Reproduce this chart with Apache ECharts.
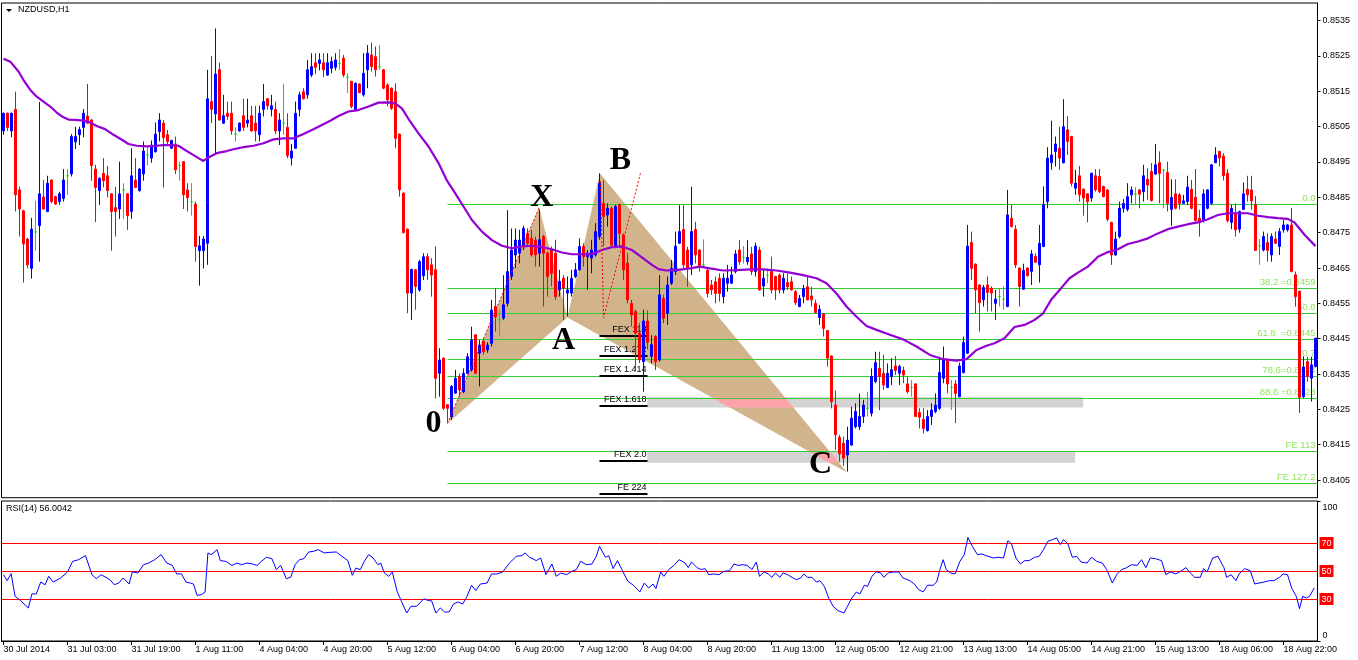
<!DOCTYPE html>
<html><head><meta charset="utf-8">
<script src="https://cdn.jsdelivr.net/npm/echarts@6/dist/echarts.min.js"></script>
<style>html,body{margin:0;padding:0;background:#fff}#c{width:1358px;height:660px}</style>
</head><body><div id="c"></div>
<script>
const symbolTitle = 'NZDUSD,H1';
const rsiTitle = 'RSI(14) 56.0042';

// [open, close, low, high] per H1 bar
const candles = [
[0.85038,0.85088,0.85027,0.85090],[0.85088,0.85048,0.85038,0.85090],[0.85038,0.85088,0.85020,0.85090],[0.85099,0.84857,0.84810,0.85149],[0.84871,0.84817,0.84739,0.84880],
[0.84812,0.84718,0.84609,0.84815],[0.84732,0.84659,0.84649,0.84735],[0.84649,0.84760,0.84620,0.84792],[0.84752,0.84752,0.84699,0.84840],[0.84770,0.84860,0.84668,0.85120],
[0.84851,0.84817,0.84815,0.84899],[0.84810,0.84890,0.84808,0.84911],[0.84899,0.84838,0.84833,0.84901],[0.84852,0.84831,0.84829,0.84855],[0.84838,0.84860,0.84829,0.84866],
[0.84847,0.84899,0.84838,0.84930],[0.84911,0.84911,0.84857,0.84930],[0.84916,0.85022,0.84909,0.85029],[0.85007,0.85022,0.84987,0.85050],[0.85027,0.85042,0.84998,0.85050],
[0.85048,0.85088,0.85020,0.85100],[0.85080,0.85060,0.85058,0.85171],[0.85069,0.84940,0.84897,0.85072],[0.84930,0.84878,0.84780,0.84942],[0.84869,0.84904,0.84829,0.84906],
[0.84918,0.84897,0.84878,0.84961],[0.84911,0.84869,0.84850,0.84939],[0.84860,0.84810,0.84699,0.84862],[0.84821,0.84810,0.84739,0.84880],[0.84817,0.84860,0.84789,0.84951],
[0.84871,0.84871,0.84789,0.84890],[0.84860,0.84798,0.84758,0.84862],[0.84810,0.84911,0.84789,0.84989],[0.84899,0.84878,0.84876,0.84961],[0.84869,0.84930,0.84866,0.84932],
[0.84916,0.84981,0.84897,0.85008],[0.84970,0.84970,0.84940,0.84992],[0.84961,0.84998,0.84948,0.85011],[0.84979,0.85029,0.84977,0.85062],[0.85036,0.85069,0.85008,0.85088],
[0.85060,0.85019,0.84878,0.85069],[0.85027,0.85008,0.84998,0.85041],[0.84989,0.85011,0.84987,0.85013],[0.85001,0.84928,0.84916,0.85022],[0.84940,0.84940,0.84897,0.84951],
[0.84951,0.84857,0.84817,0.84953],[0.84871,0.84849,0.84810,0.84890],[0.84838,0.84838,0.84798,0.84890],[0.84831,0.84711,0.84668,0.84838],[0.84699,0.84713,0.84600,0.84741],
[0.84699,0.84732,0.84649,0.84741],[0.84720,0.85129,0.84659,0.85211],[0.85121,0.85099,0.85060,0.85250],[0.85086,0.85199,0.84975,0.85328],[0.85211,0.85069,0.85067,0.85231],
[0.85060,0.85081,0.85058,0.85140],[0.85088,0.85079,0.85069,0.85121],[0.85088,0.85038,0.85027,0.85121],[0.85029,0.85029,0.85008,0.85048],[0.85038,0.85060,0.85036,0.85062],
[0.85081,0.85048,0.85038,0.85129],[0.85060,0.85069,0.85048,0.85129],[0.85081,0.85038,0.85036,0.85109],[0.85060,0.85038,0.85008,0.85109],[0.85027,0.85088,0.85008,0.85109],
[0.85099,0.85121,0.85079,0.85171],[0.85129,0.85109,0.85099,0.85131],[0.85099,0.85109,0.85079,0.85140],[0.85099,0.85038,0.85029,0.85121],[0.85038,0.85069,0.84998,0.85088],
[0.85060,0.85060,0.85027,0.85171],[0.85048,0.84968,0.84961,0.85088],[0.84961,0.84981,0.84940,0.85001],[0.84989,0.85088,0.84987,0.85121],[0.85099,0.85140,0.85079,0.85149],
[0.85149,0.85129,0.85127,0.85159],[0.85140,0.85211,0.85129,0.85239],[0.85196,0.85220,0.85190,0.85258],[0.85231,0.85218,0.85199,0.85258],[0.85229,0.85239,0.85209,0.85258],
[0.85231,0.85211,0.85190,0.85258],[0.85196,0.85231,0.85194,0.85258],[0.85215,0.85234,0.85201,0.85248],[0.85218,0.85239,0.85209,0.85258],[0.85229,0.85229,0.85211,0.85269],
[0.85244,0.85196,0.85190,0.85253],[0.85190,0.85190,0.85145,0.85201],[0.85178,0.85107,0.85102,0.85180],[0.85097,0.85173,0.85093,0.85175],[0.85171,0.85146,0.85145,0.85173],
[0.85140,0.85201,0.85135,0.85258],[0.85211,0.85258,0.85159,0.85281],[0.85253,0.85220,0.85206,0.85288],[0.85248,0.85211,0.85192,0.85277],[0.85220,0.85220,0.85211,0.85281],
[0.85211,0.85159,0.85156,0.85213],[0.85168,0.85126,0.85107,0.85173],[0.85159,0.85102,0.85097,0.85161],[0.85149,0.85017,0.84989,0.85173],[0.85029,0.84871,0.84852,0.85031],
[0.84862,0.84750,0.84748,0.84864],[0.84760,0.84579,0.84522,0.84762],[0.84579,0.84646,0.84503,0.84648],[0.84645,0.84598,0.84532,0.84647],[0.84588,0.84668,0.84583,0.84673],
[0.84628,0.84682,0.84616,0.84692],[0.84682,0.84645,0.84616,0.84692],[0.84659,0.84630,0.84569,0.84678],[0.84645,0.84338,0.84281,0.84711],[0.84352,0.84390,0.84286,0.84423],
[0.84395,0.84253,0.84248,0.84397],[0.84263,0.84253,0.84212,0.84265],[0.84229,0.84315,0.84220,0.84319],[0.84296,0.84338,0.84294,0.84362],[0.84343,0.84305,0.84286,0.84352],
[0.84300,0.84352,0.84296,0.84366],[0.84352,0.84399,0.84350,0.84409],[0.84362,0.84446,0.84357,0.84484],[0.84461,0.84352,0.84350,0.84463],[0.84409,0.84432,0.84315,0.84446],
[0.84442,0.84413,0.84405,0.84450],[0.84418,0.84432,0.84410,0.84440],[0.84437,0.84531,0.84428,0.84560],[0.84541,0.84512,0.84470,0.84593],[0.84503,0.84503,0.84456,0.84531],
[0.84508,0.84546,0.84503,0.84630],[0.84550,0.84640,0.84541,0.84814],[0.84626,0.84701,0.84616,0.84762],[0.84687,0.84729,0.84650,0.84762],[0.84692,0.84729,0.84663,0.84758],
[0.84711,0.84762,0.84701,0.84770],[0.84748,0.84720,0.84711,0.84762],[0.84734,0.84687,0.84682,0.84758],[0.84729,0.84687,0.84654,0.84739],[0.84692,0.84730,0.84654,0.84815],
[0.84739,0.84692,0.84541,0.84744],[0.84692,0.84626,0.84569,0.84697],[0.84701,0.84635,0.84598,0.84711],[0.84692,0.84569,0.84560,0.84730],[0.84588,0.84612,0.84569,0.84645],
[0.84621,0.84593,0.84503,0.84630],[0.84579,0.84588,0.84513,0.84626],[0.84579,0.84621,0.84569,0.84645],[0.84626,0.84645,0.84621,0.84664],[0.84645,0.84711,0.84643,0.84734],
[0.84711,0.84682,0.84654,0.84720],[0.84682,0.84692,0.84588,0.84701],[0.84678,0.84701,0.84635,0.84730],[0.84687,0.84753,0.84682,0.84777],[0.84739,0.84890,0.84730,0.84918],
[0.84833,0.84796,0.84711,0.84899],[0.84800,0.84819,0.84767,0.84833],[0.84819,0.84715,0.84711,0.84824],[0.84711,0.84824,0.84706,0.84829],[0.84829,0.84748,0.84711,0.84833],
[0.84744,0.84645,0.84616,0.84748],[0.84664,0.84560,0.84550,0.84692],[0.84550,0.84517,0.84484,0.84560],[0.84527,0.84466,0.84362,0.84532],[0.84466,0.84390,0.84381,0.84494],
[0.84385,0.84500,0.84300,0.84532],[0.84500,0.84440,0.84420,0.84530],[0.84400,0.84433,0.84380,0.84460],[0.84456,0.84385,0.84361,0.84460],[0.84390,0.84574,0.84385,0.84630],
[0.84564,0.84508,0.84494,0.84574],[0.84522,0.84602,0.84489,0.84626],[0.84607,0.84649,0.84602,0.84673],[0.84640,0.84712,0.84630,0.84753],[0.84720,0.84753,0.84718,0.84828],
[0.84759,0.84659,0.84649,0.84828],[0.84701,0.84649,0.84597,0.84710],[0.84659,0.84753,0.84630,0.84880],[0.84759,0.84687,0.84663,0.84781],[0.84701,0.84654,0.84640,0.84703],
[0.84659,0.84659,0.84654,0.84731],[0.84644,0.84578,0.84567,0.84649],[0.84602,0.84588,0.84574,0.84616],[0.84611,0.84578,0.84550,0.84626],[0.84621,0.84578,0.84555,0.84635],
[0.84569,0.84621,0.84550,0.84635],[0.84607,0.84621,0.84583,0.84659],[0.84607,0.84630,0.84605,0.84654],[0.84640,0.84690,0.84635,0.84701],[0.84701,0.84668,0.84659,0.84729],
[0.84680,0.84680,0.84663,0.84712],[0.84668,0.84680,0.84659,0.84729],[0.84690,0.84640,0.84630,0.84710],[0.84640,0.84712,0.84626,0.84722],[0.84701,0.84588,0.84586,0.84710],
[0.84599,0.84621,0.84569,0.84646],[0.84630,0.84630,0.84607,0.84649],[0.84640,0.84588,0.84578,0.84682],[0.84626,0.84588,0.84560,0.84628],[0.84630,0.84588,0.84578,0.84635],
[0.84588,0.84621,0.84578,0.84635],[0.84609,0.84597,0.84588,0.84635],[0.84611,0.84588,0.84586,0.84626],[0.84583,0.84552,0.84545,0.84588],[0.84541,0.84564,0.84539,0.84574],
[0.84569,0.84592,0.84550,0.84602],[0.84597,0.84560,0.84558,0.84626],[0.84571,0.84560,0.84541,0.84597],[0.84550,0.84524,0.84522,0.84560],[0.84510,0.84533,0.84489,0.84545],
[0.84520,0.84479,0.84456,0.84522],[0.84473,0.84395,0.84371,0.84475],[0.84401,0.84272,0.84253,0.84403],[0.84262,0.84178,0.84135,0.84303],[0.84171,0.84124,0.84102,0.84178],
[0.84154,0.84112,0.84090,0.84173],[0.84121,0.84163,0.84074,0.84201],[0.84149,0.84225,0.84147,0.84258],[0.84201,0.84244,0.84196,0.84267],[0.84201,0.84230,0.84192,0.84295],
[0.84230,0.84262,0.84211,0.84277],[0.84253,0.84253,0.84230,0.84300],[0.84239,0.84343,0.84230,0.84366],[0.84329,0.84382,0.84324,0.84413],[0.84366,0.84343,0.84248,0.84413],
[0.84352,0.84319,0.84305,0.84404],[0.84312,0.84352,0.84310,0.84380],[0.84343,0.84362,0.84319,0.84395],[0.84373,0.84360,0.84347,0.84401],[0.84352,0.84371,0.84319,0.84376],
[0.84360,0.84347,0.84324,0.84371],[0.84322,0.84300,0.84295,0.84343],[0.84312,0.84312,0.84286,0.84333],[0.84322,0.84230,0.84228,0.84324],[0.84241,0.84228,0.84196,0.84253],
[0.84222,0.84196,0.84182,0.84253],[0.84190,0.84230,0.84187,0.84248],[0.84230,0.84248,0.84206,0.84267],[0.84244,0.84262,0.84239,0.84295],[0.84253,0.84354,0.84248,0.84399],
[0.84338,0.84390,0.84324,0.84428],[0.84390,0.84322,0.84295,0.84392],[0.84312,0.84312,0.84248,0.84333],[0.84322,0.84295,0.84211,0.84333],[0.84286,0.84373,0.84284,0.84382],
[0.84354,0.84439,0.84352,0.84456],[0.84409,0.84712,0.84407,0.84772],[0.84722,0.84649,0.84616,0.84753],[0.84661,0.84588,0.84522,0.84663],[0.84602,0.84552,0.84470,0.84604],
[0.84560,0.84595,0.84541,0.84602],[0.84602,0.84581,0.84527,0.84626],[0.84593,0.84579,0.84527,0.84598],[0.84550,0.84562,0.84503,0.84588],[0.84569,0.84569,0.84541,0.84593],
[0.84562,0.84562,0.84532,0.84598],[0.84541,0.84800,0.84539,0.84871],[0.84791,0.84767,0.84765,0.84829],[0.84760,0.84659,0.84650,0.84772],[0.84650,0.84598,0.84541,0.84652],
[0.84590,0.84643,0.84588,0.84662],[0.84650,0.84628,0.84626,0.84652],[0.84640,0.84690,0.84602,0.84701],[0.84683,0.84666,0.84664,0.84692],[0.84659,0.84720,0.84609,0.84772],
[0.84711,0.84829,0.84709,0.84881],[0.84838,0.84961,0.84819,0.84992],[0.84948,0.84970,0.84928,0.85067],[0.84980,0.85001,0.84937,0.85022],[0.84989,0.84961,0.84928,0.85050],
[0.84948,0.85050,0.84946,0.85128],[0.85041,0.85008,0.84970,0.85080],[0.85022,0.84890,0.84881,0.85024],[0.84876,0.84890,0.84857,0.84928],[0.84911,0.84857,0.84838,0.84939],
[0.84873,0.84848,0.84798,0.84876],[0.84860,0.84838,0.84779,0.84862],[0.84848,0.84918,0.84838,0.84920],[0.84911,0.84871,0.84866,0.84930],[0.84909,0.84866,0.84862,0.84930],
[0.84881,0.84852,0.84850,0.84883],[0.84871,0.84788,0.84782,0.84873],[0.84779,0.84687,0.84659,0.84781],[0.84687,0.84732,0.84685,0.84753],[0.84739,0.84819,0.84734,0.84838],
[0.84819,0.84833,0.84807,0.84845],[0.84816,0.84852,0.84810,0.84890],[0.84857,0.84871,0.84833,0.84881],[0.84859,0.84859,0.84829,0.84879],[0.84871,0.84859,0.84819,0.84873],
[0.84866,0.84911,0.84838,0.84942],[0.84901,0.84885,0.84843,0.84932],[0.84923,0.84841,0.84838,0.84947],[0.84916,0.84942,0.84914,0.85001],[0.84948,0.84918,0.84833,0.84980],
[0.84928,0.84928,0.84819,0.84930],[0.84920,0.84833,0.84810,0.84951],[0.84816,0.84850,0.84769,0.84901],[0.84860,0.84819,0.84816,0.84901],[0.84857,0.84833,0.84816,0.84862],
[0.84833,0.84840,0.84832,0.84857],[0.84838,0.84879,0.84829,0.84911],[0.84873,0.84819,0.84816,0.84899],[0.84850,0.84784,0.84782,0.84930],[0.84791,0.84779,0.84739,0.84815],
[0.84784,0.84860,0.84779,0.84873],[0.84819,0.84871,0.84816,0.84873],[0.84833,0.84942,0.84829,0.84944],[0.84948,0.84970,0.84947,0.84992],[0.84980,0.84961,0.84937,0.84982],
[0.84967,0.84911,0.84898,0.84975],[0.84918,0.84784,0.84779,0.84930],[0.84779,0.84819,0.84760,0.84829],[0.84805,0.84758,0.84739,0.84833],[0.84760,0.84810,0.84750,0.84812],
[0.84816,0.84860,0.84815,0.84892],[0.84873,0.84857,0.84838,0.84911],[0.84871,0.84840,0.84815,0.84911],[0.84829,0.84700,0.84698,0.84854],[0.84713,0.84713,0.84659,0.84732],
[0.84701,0.84739,0.84697,0.84753],[0.84722,0.84700,0.84668,0.84748],[0.84687,0.84739,0.84668,0.84748],[0.84732,0.84720,0.84718,0.84753],[0.84711,0.84753,0.84687,0.84763],
[0.84758,0.84772,0.84750,0.84786],[0.84758,0.84772,0.84753,0.84775],[0.84772,0.84640,0.84638,0.84820],[0.84631,0.84569,0.84541,0.84640],[0.84584,0.84284,0.84240,0.84586],
[0.84286,0.84370,0.84282,0.84400],[0.84385,0.84343,0.84329,0.84399],[0.84338,0.84376,0.84272,0.84399],[0.84371,0.84451,0.84369,0.84453]
];

// moving average: [bar, value]
const maPoints = [
[0,0.85242],[1.7,0.85234],[3.75,0.85206],[5,0.85182],[6.7,0.85154],[8.3,0.85135],[10,0.85121],[11.7,0.85107],[13.3,0.85090],[14.6,0.85079],[16.25,0.85070],[17.9,0.85069],[20,0.85067],[21.7,0.85062],[23.3,0.85052],[25.4,0.85043],[27.5,0.85027],[29.6,0.85013],[31.25,0.85001],[33.3,0.84996],[35.8,0.84994],[38.3,0.84996],[40,0.84998],[41.7,0.84998],[43.75,0.84996],[45.4,0.84984],[47,0.84973],[48.75,0.84961],[50,0.84953],[51.25,0.84963],[53.3,0.84975],[55.8,0.84981],[57.5,0.84986],[60,0.84992],[62.5,0.84996],[65,0.85003],[67.5,0.85014],[70,0.85017],[72.5,0.85017],[75,0.85029],[77.5,0.85043],[79.6,0.85055],[81.7,0.85067],
[83.75,0.85080],[86.25,0.85093],[88.75,0.85097],[91.25,0.85107],[93.75,0.85118],[96.25,0.85119],[97.9,0.85116],[99.6,0.85102],[101.7,0.85064],[103.75,0.85031],[106.25,0.84994],[108.75,0.84947],[110.8,0.84899],[112.9,0.84862],[115,0.84824],[117.1,0.84786],[119.6,0.84753],[122.1,0.84729],[124.6,0.84713],[127.1,0.84706],[129.6,0.84711],[132.1,0.84713],[134.6,0.84709],[137.1,0.84703],[139.6,0.84694],[142.1,0.84689],[144.6,0.84689],[147.1,0.84689],[149.6,0.84701],[152.1,0.84709],[154.6,0.84711],[157.1,0.84701],[159.6,0.84680],[162.1,0.84659],[163.75,0.84647],
[165.75,0.84643],[168.25,0.84644],[171.6,0.84649],[174.1,0.84654],[176.6,0.84649],[179.9,0.84643],[183.25,0.84644],[186.6,0.84646],[189.9,0.84646],[193.25,0.84643],[196.6,0.84637],[199.9,0.84630],[203.25,0.84621],[205.75,0.84607],[208.25,0.84578],[210.75,0.84541],[213.25,0.84512],[215.75,0.84486],[218.25,0.84475],[221.6,0.84461],[224.9,0.84448],[228.25,0.84428],[231.6,0.84404],[234.9,0.84392],[238.25,0.84388],[240.75,0.84392],[243.25,0.84418],[245.75,0.84430],
[247.75,0.84437],[250.25,0.84451],[252.75,0.84483],[255.25,0.84489],[257.75,0.84503],[259.8,0.84520],[261.9,0.84560],[264.4,0.84593],[266.5,0.84621],[268.6,0.84637],[271.1,0.84654],[273.6,0.84682],[276.1,0.84695],[278.6,0.84703],[281.1,0.84718],[283.6,0.84725],[286.1,0.84734],[288.6,0.84748],[291.1,0.84760],[293.6,0.84767],[296.1,0.84774],[298.6,0.84779],[301.1,0.84788],[303.6,0.84800],[306.1,0.84805],[308.6,0.84805],[311.1,0.84805],[313.6,0.84798],[316.1,0.84794],[318.6,0.84791],[321.1,0.84789],[322.75,0.84779],[325.25,0.84744],[328,0.84712]
];

// RSI(14): [bar, value]
const rsiPoints = [
[0,47.4],[0.9,43.1],[1.9,48.1],[2.9,31.9],[4.3,28.8],[6.2,23.6],[7.1,33.6],[8.2,33.6],[9.3,42.1],[10.4,40.2],[11.3,46.2],[12.4,42.1],[14.3,45],[16,49.3],[17.3,56.9],[18.8,58.1],[20.5,61],[22.1,47.4],[23.2,44.5],[24.4,47.4],[26.6,43.8],[27.7,40.2],[28.8,41.4],[29.9,45],[31.4,40.7],[32.2,49.3],[33.6,48.6],[35,54.5],[36.3,55.7],[37.8,58.1],[39.4,61.7],[40.8,55.7],[42.2,54],[43.3,47.9],[44.5,47.9],[45.6,42.1],[46.7,41.4],[47.5,40.7],[48.4,32.6],[49.5,33.1],[50.4,35],[51.1,62.9],[51.9,61.7],[53.4,65.2],[54.2,57.4],[55.6,56.9],[57.1,54],[58.4,55.7],[59.5,54.5],[60.9,55.7],[62.3,55],[63.4,54],[64.5,56.9],[65.7,59.8],[67.1,58.8],[68.2,51],[69.3,54],[70.7,44.5],[71.8,45.5],[72.9,54.5],[74,58.1],[75.1,58.8],[76.3,63.6],[77.4,64],[78.7,65.2],[80.2,62.9],[81.5,63.3],[83.2,63.6],[84.6,60.5],[86.1,57.4],[87.2,46.9],[88.1,52.1],[89.2,51],[90.2,56.9],[91.3,61.7],[92.4,59.3],[93.6,54.5],[94.3,55.7],[95.2,48.6],[96.3,46.2],[97.2,49.3],[98.4,35.5],[99.5,28.3],[100.8,20],[101.9,24.8],[103.3,24.8],[105.1,30.2],[106.2,28.8],[107,28.8],[108.1,20],[109.2,23.6],[110.3,20.7],[111.4,20.7],[112.5,26.4],[113.6,27.9],[114.8,26.4],[115.9,31.9],[117,39.8],[118.1,36],[119.2,40.7],[120.9,41.4],[122,47.9],[123.4,47.9],[124.8,49.3],[126.5,55.7],[128.2,60.5],[129.6,61],[130.4,62.9],[131.5,59.8],[133.2,57.4],[134.3,59.3],[135.6,47.4],[137.1,55],[138.2,46.2],[139.3,48.6],[140.8,47.4],[142.1,49.8],[143.2,51],[144.3,56.9],[145.7,54.5],[147.1,55],[148.2,60.5],[149,67.6],[150.5,59.8],[151.3,61],[152.4,51.7],[153.5,57.4],[154.6,51],[156.1,42.6],[157.5,39.8],[159.1,35],[160.2,41.4],[161.3,37.9],[162.4,40.7],[163.1,37.4],
[164.3,49.3],[165.1,46.2],[166.3,51],[167.6,54],[168.9,58.1],[170.4,55.7],[171.2,52.4],[172,56.4],[173.4,52.4],[174.5,51],[175.4,51.7],[176.3,47.4],[177.6,47.9],[178.9,47.4],[180.1,49.8],[181.5,50.2],[182.6,55],[183.7,54],[184.8,54.5],[185.9,54],[187.1,51],[188.2,56.4],[189,46.2],[190.1,49.3],[191.2,47.9],[192.1,45.5],[193,48.6],[194.1,45.5],[194.9,48.6],[196,47.4],[197.4,45],[198.2,43.8],[199.3,45],[200.1,47.9],[201,45.5],[202.1,45.5],[203.2,42.1],[204.1,43.1],[205.2,39],[206.3,30.7],[207.4,24.8],[208.6,21.7],[210.1,20],[211,24.8],[212.1,30.7],[213.2,35],[214.1,33.6],[215.2,39.8],[216,39],[217.1,46.2],[218.2,49.3],[219.3,48.6],[220.1,45.5],[221.2,48.6],[222.4,49.3],[223.8,49.3],[224.9,45],[226.6,43.1],[227.7,40.7],[228.8,36.7],[229.9,35],[231,39.8],[232.4,39.8],[233.3,42.1],[234.1,51],[234.9,58.1],[235.7,51],[236.8,48.6],[237.9,47.9],[239.1,56.9],[240.2,61.7],[241.1,74],[242.2,67.6],[243.5,61.7],[244.6,62.1],[246.1,60.5],[247.5,59.3],[248.6,59.8],[250,59.3],[251.1,71.7],[252,69.3],[253.1,59.3],[254.2,55],[255.3,57.4],[256.4,57.4],[257.8,59.8],[258.9,60.5],[260,65.2],[261.1,71.2],[262.2,72.4],[263.3,73.6],[264.2,68.8],[265,72.4],[266.1,69.3],[267.2,59.8],[268.3,60.5],[269.4,56.4],[270.9,55.7],[272,59.8],[273.3,56.9],[274.7,55.7],[275.8,51],[277.2,41.4],[278.3,47.4],[279.5,51],[280.6,52.1],[282,54.5],[283.4,54],[284.5,58.1],[285.6,52.4],[286.7,59.3],[288,58.8],[289.5,57.4],[290.6,47.4],[291.7,49.3],[293.1,47.9],[294.3,49.8],[295.6,52.4],[296.7,48.6],[297.8,45.5],[299.2,45.5],[300,51.7],[300.9,49.3],[302.3,59.3],[303.6,60.5],[305.1,52.4],[305.8,45.5],[306.9,47.4],[308.1,43.1],[308.9,47.9],[310.3,51.7],[311.7,50.2],[312.8,40.7],[313.9,41.4],[315.1,42.1],[316.5,43.1],[317.6,43.1],[319,45.5],[319.9,47.9],[321,47.4],[322.1,37.4],[323.2,31.9],[324,23.1],[324.8,31.9],[325.7,30.7],[326.5,31.9],[327.7,37.9]
];

const tickBars = [0,16,32,48,64,80,96,112,128,144,160,176,192,208,224,240,256,272,288,304,320];
const tickLabels = ['30 Jul 2014','31 Jul 03:00','31 Jul 19:00','1 Aug 11:00','4 Aug 04:00','4 Aug 20:00','5 Aug 12:00','6 Aug 04:00','6 Aug 20:00','7 Aug 12:00','8 Aug 04:00','8 Aug 20:00','11 Aug 13:00','12 Aug 05:00','12 Aug 21:00','13 Aug 13:00','14 Aug 05:00','14 Aug 21:00','15 Aug 13:00','18 Aug 06:00','18 Aug 22:00'];
const priceTicks = [0.8405,0.8415,0.8425,0.8435,0.8445,0.8455,0.8465,0.8475,0.8485,0.8495,0.8505,0.8515,0.8525,0.8535];
const rsiTicks = [100,70,50,30,0];
const rsiLevels = [70,50,30];

const fibStartBar = 111;
const fibLevels = [0.84830,0.84593,0.84522,0.84448,0.84392,0.84343,0.84281,0.84132,0.84043];
const fibLabels = ['0.0','38.2 =0.8459','50.0','61.8  =0.8445','70.7','78.6=0.8434','88.6 =0.8428','FE 113','FE 127.2'];
const fexBars = [149,161];
const fexLevels = [0.84458,0.84402,0.84345,0.84260,0.84105,0.84010];
const fexLabels = ['FEX 113','FEX 1.272','FEX 1.414','FEX 1.618','FEX 2.0','FE 224'];
const zoneBars = [[160.9,269.9],[160.9,267.9]];
const zonePrices = [[0.84284,0.84255],[0.84130,0.84099]];
const patternNames = ['0','X','A','B','C'];
const patternPoints = [[111,0.84210],[133.9,0.84821],[141,0.84510],[149.1,0.84918],[210.9,0.84071]];
const patternLabelPoints = [[107.5,0.84210],[134.6,0.84848],[140,0.84443],[154.25,0.84953],[204.25,0.84092]];
const guideLines = [[[111,0.84210],[133.9,0.84821]],[[149.25,0.84896],[150,0.84509],[159.25,0.84919]]];

const N = candles.length;
const categories = candles.map((_, i) => String(i));
const FONT = '"Liberation Sans", Arial, sans-serif';

function clipPoly(poly, r) {
  const bounds = [[0, r.x, 1], [0, r.x + r.width, -1], [1, r.y, 1], [1, r.y + r.height, -1]];
  let out = poly;
  for (const [ax, v, s] of bounds) {
    const inp = out; out = [];
    for (let k = 0; k < inp.length; k++) {
      const cur = inp[k], prev = inp[(k + inp.length - 1) % inp.length];
      const cin = (cur[ax] - v) * s >= 0, pin = (prev[ax] - v) * s >= 0;
      if (cin !== pin) {
        const t = (v - prev[ax]) / (cur[ax] - prev[ax]);
        out.push([prev[0] + t * (cur[0] - prev[0]), prev[1] + t * (cur[1] - prev[1])]);
      }
      if (cin) out.push(cur);
    }
    if (!out.length) break;
  }
  return out;
}
function zoneRect(api, k) {
  const a = api.coord([zoneBars[k][0], zonePrices[k][0]]);
  const b = api.coord([zoneBars[k][1], zonePrices[k][1]]);
  return {x: Math.min(a[0], b[0]), y: Math.min(a[1], b[1]), width: Math.abs(b[0] - a[0]), height: Math.abs(b[1] - a[1])};
}
const crisp = v => Math.round(v) + 0.5;

const chart = echarts.init(document.getElementById('c'), null, {renderer: 'canvas'});
const overlayBase = {type: 'custom', coordinateSystem: 'cartesian2d', xAxisIndex: 1, yAxisIndex: 0, data: [[0, 0.845]], silent: true, clip: false};

chart.setOption({
  animation: false,
  backgroundColor: '#ffffff',
  textStyle: {fontFamily: FONT},
  grid: [
    {left: 1.5, width: 1316, top: 3, height: 494.7, show: true, borderColor: '#000', borderWidth: 1, containLabel: false, outerBoundsMode: 'none'},
    {left: 1.5, width: 1316, top: 501, height: 140, show: true, borderColor: '#000', borderWidth: 1, containLabel: false, outerBoundsMode: 'none'}
  ],
  xAxis: [
    {type: 'category', gridIndex: 0, data: categories, boundaryGap: true, axisLine: {show: false, onZero: false}, axisTick: {show: false}, axisLabel: {show: false}, splitLine: {show: false}},
    {type: 'value', gridIndex: 0, min: -0.5, max: N - 0.5, show: false, axisLine: {show: false, onZero: false}, axisTick: {show: false}, axisLabel: {show: false}, splitLine: {show: false}},
    {type: 'value', gridIndex: 1, min: -0.5, max: N - 0.5, splitLine: {show: false},
     axisLine: {show: true, onZero: false, lineStyle: {color: '#000', width: 1}},
     axisTick: {show: true, customValues: tickBars, length: 4, lineStyle: {color: '#000'}},
     axisLabel: {customValues: tickBars, formatter: v => tickLabels[tickBars.indexOf(v)] || '', align: 'left', fontSize: 9, color: '#000', margin: 4, fontFamily: FONT}}
  ],
  yAxis: [
    {type: 'value', gridIndex: 0, position: 'right', min: 0.8400, max: 0.8540, splitLine: {show: false},
     axisLine: {show: true, onZero: false, lineStyle: {color: '#000'}},
     axisTick: {show: true, customValues: priceTicks, length: 3, lineStyle: {color: '#000'}},
     axisLabel: {customValues: priceTicks, formatter: v => v.toFixed(4), fontSize: 9, color: '#000', margin: 5, fontFamily: FONT}},
    {type: 'value', gridIndex: 1, position: 'right', min: 0, max: 100, splitLine: {show: false},
     axisLine: {show: true, onZero: false, lineStyle: {color: '#000'}},
     axisTick: {show: true, customValues: [100, 0], length: 3, lineStyle: {color: '#000'}},
     axisLabel: {customValues: rsiTicks, margin: 2, fontSize: 9, color: '#000', fontFamily: FONT,
       formatter: v => v === 100 ? '{t|100}' : v === 0 ? '{b|0}' : '{r|' + v + '}',
       rich: {
         r: {backgroundColor: '#FF0000', color: '#fff', padding: [2, 2, 1, 2], fontSize: 9, fontFamily: FONT},
         t: {padding: [14, 0, 0, 3], fontSize: 9, color: '#000', fontFamily: FONT},
         b: {padding: [0, 0, 10, 3], fontSize: 9, color: '#000', fontFamily: FONT}
       }}}
  ],
  graphic: [
    {type: 'polygon', shape: {points: [[6, 9], [12, 9], [9, 12]]}, style: {fill: '#000'}},
    {type: 'text', left: 18, top: 5, style: {text: symbolTitle, font: '9px ' + FONT, fill: '#000'}},
    {type: 'text', left: 6, top: 504, style: {text: rsiTitle, font: '9px ' + FONT, fill: '#000'}}
  ],
  series: [
    Object.assign({}, overlayBase, {name: 'zones', z: 1, renderItem: (params, api) => ({
      type: 'group', children: zoneBars.map((_, k) => ({type: 'rect', shape: zoneRect(api, k), style: {fill: '#D3D3D3'}}))
    })}),
    Object.assign({}, overlayBase, {name: 'pattern', z: 2, renderItem: (params, api) => {
      const p = patternPoints.map(q => api.coord(q));
      const tris = [[p[0], p[1], p[2]], [p[2], p[3], p[4]]];
      const children = tris.map(t => ({type: 'polygon', shape: {points: t}, style: {fill: '#D2B48C'}}));
      zoneBars.forEach((_, k) => {
        const r = zoneRect(api, k);
        tris.forEach(t => {
          const c = clipPoly(t, r);
          if (c.length > 2) children.push({type: 'polygon', shape: {points: c}, style: {fill: '#FFA3AA'}});
        });
      });
      return {type: 'group', children};
    }}),
    Object.assign({}, overlayBase, {name: 'levels', z: 4, renderItem: (params, api) => {
      const right = api.coord([N - 0.5, 0.845])[0];
      const children = [];
      fibLevels.forEach((p, k) => {
        const a = api.coord([fibStartBar, p]);
        const y = crisp(a[1]);
        children.push({type: 'line', shape: {x1: a[0], y1: y, x2: right, y2: y}, style: {stroke: '#32CD32', lineWidth: 1}});
        children.push({type: 'text', x: right - 2, y: y - 1, style: {text: fibLabels[k], fill: '#8FE35A', font: '9.5px ' + FONT, align: 'right', verticalAlign: 'bottom'}});
      });
      fexLevels.forEach((p, k) => {
        const a = api.coord([fexBars[0], p]);
        const b = api.coord([fexBars[1], p]);
        const y = Math.round(a[1]);
        children.push({type: 'line', shape: {x1: a[0], y1: y, x2: b[0], y2: y}, style: {stroke: '#000', lineWidth: 2}});
        children.push({type: 'text', x: b[0] - 1, y: y - 2, style: {text: fexLabels[k], fill: '#000', font: '9px ' + FONT, align: 'right', verticalAlign: 'bottom'}});
      });
      return {type: 'group', children};
    }}),
    {type: 'candlestick', name: symbolTitle, xAxisIndex: 0, yAxisIndex: 0, data: candles, barWidth: 2, z: 5, silent: true,
     itemStyle: {color: '#0000FF', color0: '#FF0000', borderColor: '#0000FF', borderColor0: '#FF0000', borderColorDoji: '#00DD00', borderWidth: 1}},
    {type: 'line', name: 'MA', xAxisIndex: 1, yAxisIndex: 0, data: maPoints, showSymbol: false, symbol: 'none', z: 6, silent: true,
     lineStyle: {color: '#9400D3', width: 2.2}},
    Object.assign({}, overlayBase, {name: 'guides', z: 7, renderItem: (params, api) => ({
      type: 'group', children: guideLines.map(g => ({type: 'polyline', shape: {points: g.map(q => api.coord(q))}, style: {stroke: '#FF0000', lineWidth: 1, lineDash: [2, 2], fill: null}}))
    })}),
    Object.assign({}, overlayBase, {name: 'letters', z: 8, renderItem: (params, api) => ({
      type: 'group', children: patternLabelPoints.map((q, k) => {
        const c = api.coord(q);
        return {type: 'text', x: c[0], y: c[1], style: {text: patternNames[k], fill: '#000', font: 'bold 32px "Liberation Serif", "Times New Roman", serif', align: 'center', verticalAlign: 'middle'}};
      })
    })}),
    {type: 'custom', name: 'RSI levels', coordinateSystem: 'cartesian2d', xAxisIndex: 2, yAxisIndex: 1, data: rsiLevels.map(v => [0, v]), silent: true, z: 2,
     renderItem: (params, api) => {
       const a = api.coord([-0.5, api.value(1)]);
       const b = api.coord([N - 0.5, api.value(1)]);
       const y = crisp(a[1]);
       return {type: 'line', shape: {x1: a[0], y1: y, x2: b[0], y2: y}, style: {stroke: '#FF0000', lineWidth: 1}};
     }},
    {type: 'line', name: 'RSI', xAxisIndex: 2, yAxisIndex: 1, data: rsiPoints, showSymbol: false, symbol: 'none', silent: true, z: 3,
     lineStyle: {color: '#0000FF', width: 1}}
  ]
});
</script>
</body></html>
